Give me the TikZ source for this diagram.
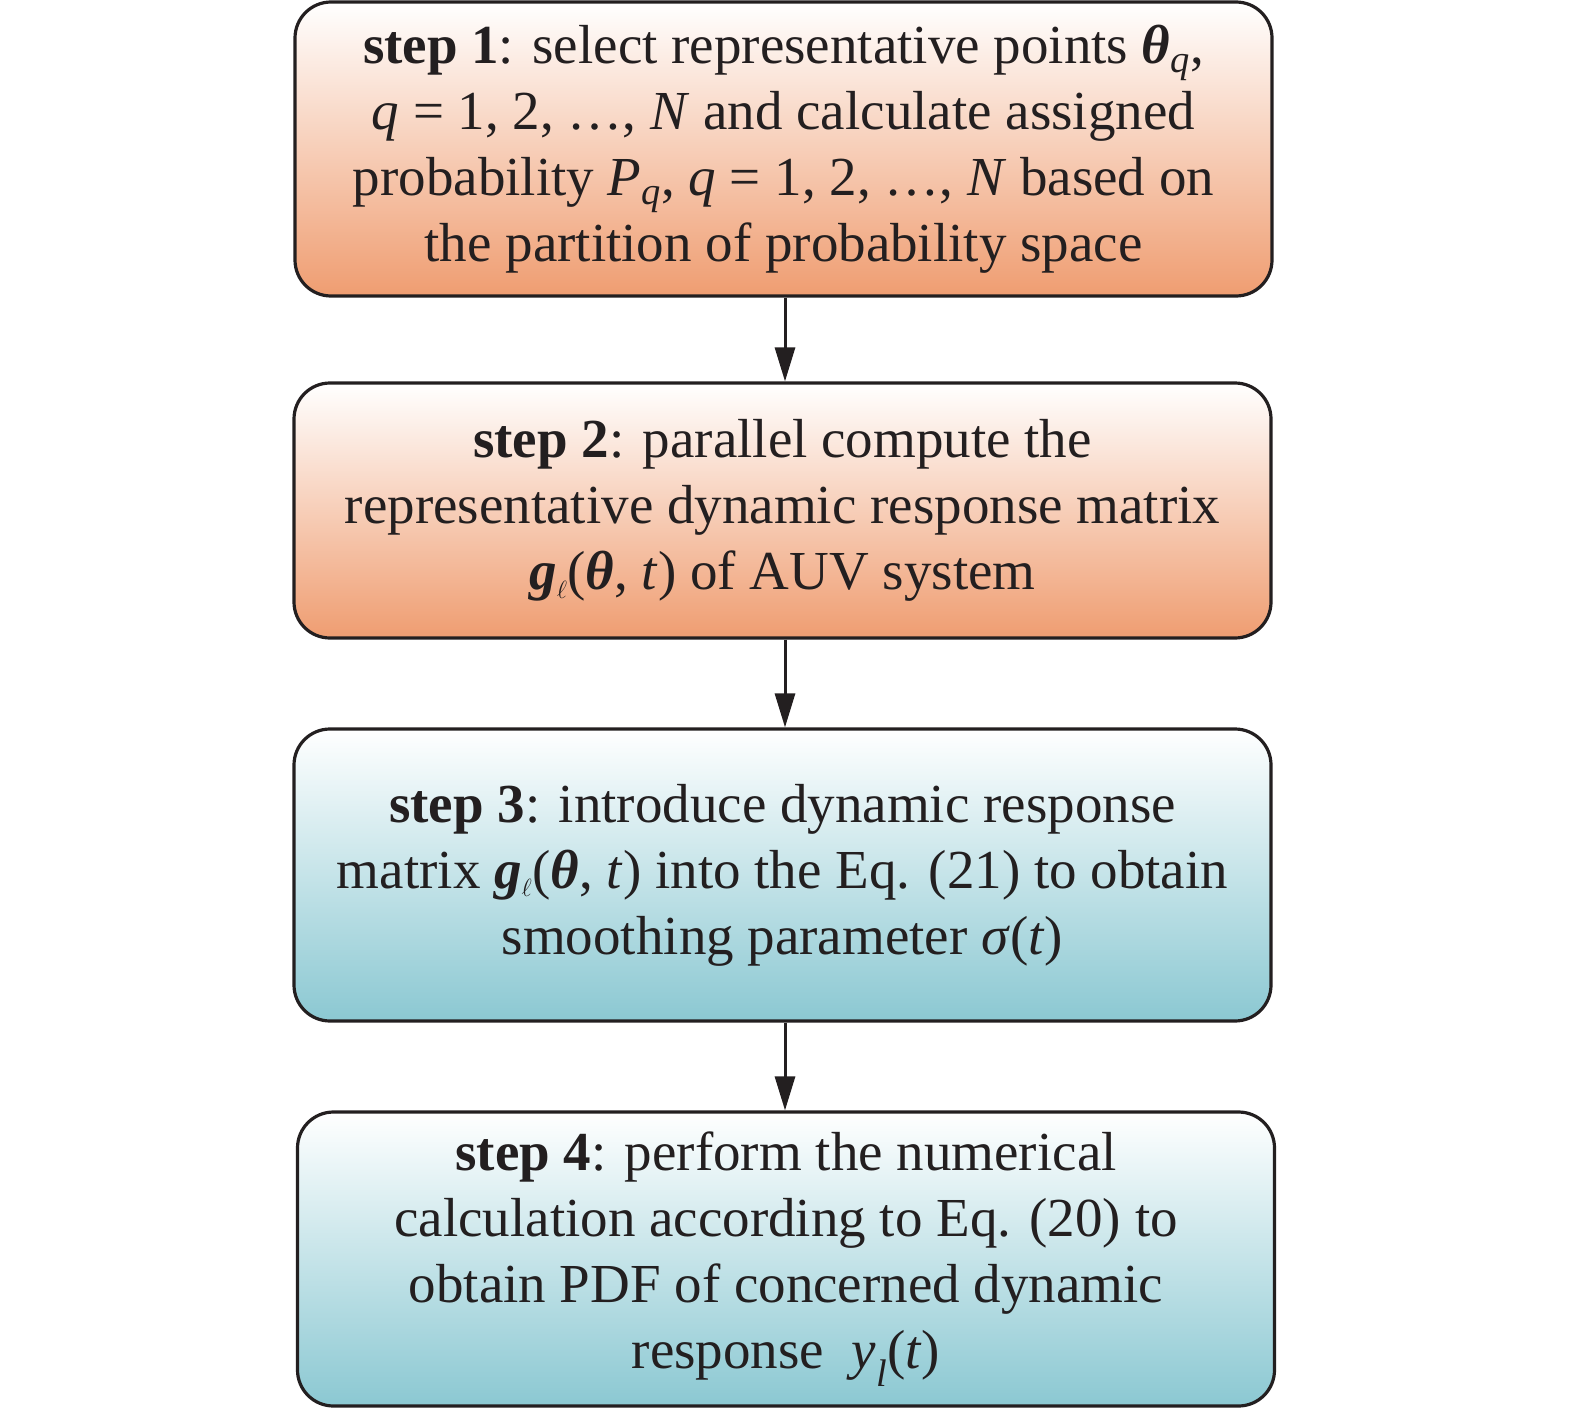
\documentclass[tikz,border=0pt]{standalone}
\usepackage{fontspec}
\setmainfont{Liberation Serif}
\usetikzlibrary{arrows.meta}
\definecolor{orangeB}{RGB}{239,157,113}
\definecolor{blueB}{RGB}{139,200,210}
\definecolor{lineC}{RGB}{35,31,32}
\newcommand{\bth}{\textbf{\textit{θ}}}
\newcommand{\bg}{\textbf{\textit{g}}}
\begin{document}
\begin{tikzpicture}[x=1pt,y=1pt,
  stepbox/.style={draw=lineC, line width=3.2pt, rounded corners=36pt,
    minimum width=977pt, inner sep=0pt, align=center,
    font=\fontsize{55}{66}\selectfont, text=lineC},
  warmbox/.style={stepbox, top color=white, bottom color=orangeB},
  coolbox/.style={stepbox, top color=white, bottom color=blueB},
  flowarrow/.style={draw=lineC, line width=3pt,
    -{Triangle[length=34pt, width=20pt]}}]
\useasboundingbox (0,0) rectangle (1575,-1413);
\coordinate (ax) at (785,0);
\node[warmbox, minimum height=294pt] (s1) at (783.5,-149)
 {\textbf{step 1}: select representative points \bth\textsubscript{\textit{q}},\\
  \textit{q} = 1, 2, …, \textit{N} and calculate assigned\\
  probability \textit{P}\textsubscript{\textit{q}}, \textit{q} = 1, 2, …, \textit{N} based on\\
  the partition of probability space};
\node[warmbox, minimum height=255pt] (s2) at (782.5,-510.5)
 {\textbf{step 2}: parallel compute the\\
  representative dynamic response matrix\\
  \bg\textsubscript{$\ell$}(\bth, \textit{t}) of AUV system};
\node[coolbox, minimum height=292pt] (s3) at (782.5,-875)
 {\textbf{step 3}: introduce dynamic response\\
  matrix \bg\textsubscript{$\ell$}(\bth, \textit{t}) into the Eq. (21) to obtain\\
  smoothing parameter \textit{σ}(\textit{t})};
\node[coolbox, minimum height=294pt] (s4) at (786,-1259)
 {\textbf{step 4}: perform the numerical\\
  calculation according to Eq. (20) to\\
  obtain PDF of concerned dynamic\\
  response\ \ \textit{y}\textsubscript{\textit{l}}(\textit{t})};
\draw[flowarrow] (s1.south -| ax) -- (s2.north -| ax);
\draw[flowarrow] (s2.south -| ax) -- (s3.north -| ax);
\draw[flowarrow] (s3.south -| ax) -- (s4.north -| ax);
\end{tikzpicture}
\end{document}
